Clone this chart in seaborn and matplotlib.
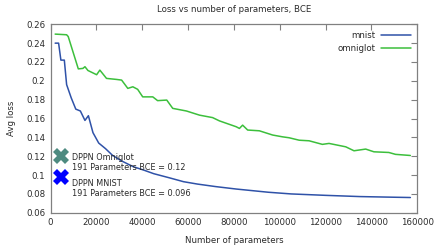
import matplotlib
matplotlib.use('Agg')
import matplotlib.pyplot as plt
import matplotlib.ticker as mticker
import pandas as pd
import seaborn as sns

# mnist curve (number of parameters, avg loss)
mnist_x = [2000, 3500, 4500, 6000, 7000, 9000, 11000, 13000, 15000, 16500, 18500,
           21000, 24000, 27000, 31000, 36000, 41000, 45000, 52000, 58000, 64000,
           72000, 81000, 95000, 105000, 120000, 135000, 150000, 157000]
mnist_y = [0.240, 0.240, 0.222, 0.222, 0.196, 0.182, 0.170, 0.168, 0.158, 0.163, 0.145,
           0.134, 0.128, 0.121, 0.115, 0.109, 0.105, 0.1015, 0.097, 0.093, 0.0905,
           0.0878, 0.0852, 0.0818, 0.0800, 0.0785, 0.0772, 0.0765, 0.0762]

# omniglot curve
omni_x = [2000, 7000, 7700, 12100, 14100, 15000, 16300, 20100, 21500, 24400, 28800,
          31000, 33700, 35900, 38000, 40200, 44600, 46700, 50700, 53300, 59300,
          65000, 70700, 73700, 81000, 82400, 83800, 86000, 91100, 96900, 101200,
          104100, 108500, 112800, 118600, 121500, 128800, 132400, 137500, 141100,
          147600, 150500, 157000]
omni_y = [0.2496, 0.2489, 0.247, 0.2127, 0.2132, 0.215, 0.211, 0.2065, 0.2114, 0.2026, 0.2015,
          0.2008, 0.192, 0.1937, 0.191, 0.183, 0.183, 0.179, 0.1796, 0.1708, 0.168,
          0.1636, 0.161, 0.1575, 0.1513, 0.1495, 0.153, 0.1478, 0.147, 0.1425, 0.1406,
          0.1396, 0.137, 0.1364, 0.1326, 0.1336, 0.130, 0.1258, 0.1276, 0.1247,
          0.124, 0.122, 0.1208]

# DPPN reference points
dppn_titles = ['DPPN Omniglot', 'DPPN MNIST']
dppn_notes = ['191 Parameters BCE = 0.12', '191 Parameters BCE = 0.096']
dppn_x = [4400, 4400]
dppn_y = [0.12, 0.098]
dppn_colors = ['#4d8a80', '#0000ff']

x_ticks = [0, 20000, 40000, 60000, 80000, 100000, 120000, 140000, 160000]
y_ticks = [0.06, 0.08, 0.1, 0.12, 0.14, 0.16, 0.18, 0.2, 0.22, 0.24, 0.26]

df = pd.concat([
    pd.DataFrame({'params': mnist_x, 'loss': mnist_y, 'set': 'mnist'}),
    pd.DataFrame({'params': omni_x, 'loss': omni_y, 'set': 'omniglot'}),
])

sns.set_style('white')
plt.rcParams['font.family'] = ['DejaVu Sans']
fs = 6.2
tc = '#2a2a2a'

fig = plt.figure(figsize=(4.36, 2.48), dpi=100)
ax = fig.add_axes([0.116, 0.142, 0.841, 0.760])

sns.lineplot(data=df, x='params', y='loss', hue='set',
             palette={'mnist': '#2f52a8', 'omniglot': '#3cbf3c'},
             linewidth=1.1, ax=ax, estimator=None, sort=False)

# label lines: first line position, then 10 px step
px = 0.2 / 189.0  # data units per pixel on y
text_first = [0.1188, 0.0912]
for t1, t2, xx, yy, ty, c in zip(dppn_titles, dppn_notes, dppn_x, dppn_y, text_first, dppn_colors):
    ax.plot(xx, yy, marker='X', markersize=11, color=c, markeredgewidth=0,
            linestyle='none', clip_on=False)
    ax.text(9400, ty, t1, fontsize=5.9, va='center', ha='left', color=tc)
    ax.text(9400, ty - 10.2 * px, t2, fontsize=5.9, va='center', ha='left', color=tc)

ax.set_xlim(0, 160000)
ax.set_ylim(0.06, 0.26)
ax.set_xticks(x_ticks)
ax.set_yticks(y_ticks)
ax.yaxis.set_major_formatter(mticker.FuncFormatter(lambda v, p: '{:g}'.format(round(v, 2))))
ax.xaxis.set_major_formatter(mticker.FuncFormatter(lambda v, p: '{:d}'.format(int(v))))
ax.tick_params(direction='in', length=4, width=0.8, color='#808080',
               top=True, right=True, labelsize=fs, labelcolor=tc, pad=4)
for s in ax.spines.values():
    s.set_color('#808080')
    s.set_linewidth(0.9)

ax.set_xlabel('Number of parameters', fontsize=fs, color=tc, labelpad=6)
ax.set_ylabel('Avg loss', fontsize=fs, color=tc, labelpad=7)
ax.set_title('Loss vs number of parameters, BCE', fontsize=fs, color=tc, pad=9)

leg = ax.legend(loc='upper right', frameon=False, markerfirst=False, fontsize=fs,
                handlelength=3.5, handletextpad=0.6, labelspacing=0.45,
                borderaxespad=0.35)
for t in leg.get_texts():
    t.set_color(tc)

fig.savefig('out.png', dpi=100)
